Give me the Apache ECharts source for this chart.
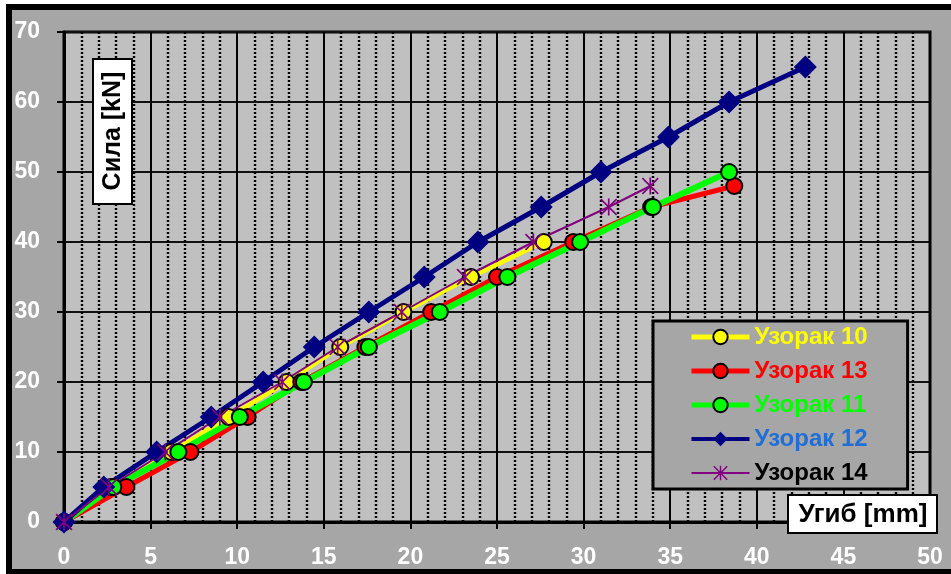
<!DOCTYPE html>
<html>
<head>
<meta charset="utf-8">
<script src="https://cdn.jsdelivr.net/npm/echarts@6/dist/echarts.min.js"></script>
<style>
    html, body { margin: 0; padding: 0; background: #fff; }
    #mychart { width: 951px; height: 574px; }
</style>
</head>
<body>
<div id="mychart"></div>
<script>
// подаци (угиб mm / сила kN)
var y10 = [0, 5, 10, 15, 20, 25, 30, 35, 40];
var x10 = [0, 2.7, 6.2, 9.5, 12.85, 15.95, 19.6, 23.5, 27.7];
var y13 = [0, 5, 10, 15, 20, 25, 30, 35, 40, 45, 48];
var x13 = [0, 3.6, 7.3, 10.6, 13.7, 17.4, 21.2, 25.0, 29.4, 33.9, 38.7];
var y11 = [0, 5, 10, 15, 20, 25, 30, 35, 40, 45, 50];
var x11 = [0, 2.85, 6.6, 10.15, 13.85, 17.6, 21.7, 25.6, 29.8, 34.0, 38.4];
var y12 = [0, 5, 10, 15, 20, 25, 30, 35, 40, 45, 50, 55, 60, 65];
var x12 = [0, 2.3, 5.35, 8.5, 11.5, 14.45, 17.6, 20.8, 23.9, 27.55, 31.0, 34.9, 38.4, 42.8];
var y14 = [0, 5, 10, 15, 20, 25, 30, 35, 40, 45, 48];
var x14 = [0, 2.6, 5.85, 9.0, 12.6, 15.8, 19.5, 23.15, 27.1, 31.45, 33.85];

var names = ['Узорак 10', 'Узорак 13', 'Узорак 11', 'Узорак 12', 'Узорак 14'];

var fontName = 'Liberation Sans, Arial, sans-serif';
// звездица
var starPath = 'path://M9 0L11 0L11 20L9 20Z M0 1.4L1.4 0L20 18.6L18.6 20Z M18.6 0L20 1.4L1.4 20L0 18.6Z';

function pairs(xs, ys) {
    var arr = [];
    for (var i = 0; i < xs.length; i++) {
        arr.push([xs[i], ys[i]]);
    }
    return arr;
}

var myChart = echarts.init(document.getElementById('mychart'));
myChart.setOption({
    animation: false,
    backgroundColor: '#fff',
    grid: {
        left: 64,
        right: 21,
        top: 32,
        bottom: 52,
        show: true,
        backgroundColor: '#c0c0c0',
        borderColor: '#000',
        borderWidth: 3,
        outerBoundsMode: 'none'
    },
    legend: {
        orient: 'vertical',
        left: 653,
        top: 321,
        backgroundColor: '#a6a6a6',
        borderColor: '#000',
        borderWidth: 3,
        padding: [4, 40, 4, 36],
        itemWidth: 58,
        itemHeight: 18,
        itemGap: 10,
        itemTextGap: 6,
        selectedMode: false,
        textStyle: { fontFamily: fontName, fontSize: 24, fontWeight: 'bold' },
        data: [
            { name: names[0], textStyle: { color: '#ffff00' }, lineStyle: { width: 5 } },
            { name: names[1], textStyle: { color: '#ff0000' }, lineStyle: { width: 5 } },
            { name: names[2], textStyle: { color: '#00ff00' }, lineStyle: { width: 5 } },
            { name: names[3], textStyle: { color: '#1f6fd6' }, lineStyle: { width: 4 } },
            { name: names[4], textStyle: { color: '#000' }, lineStyle: { width: 2 } }
        ]
    },
    xAxis: {
        type: 'value',
        min: 0,
        max: 50,
        interval: 5,
        axisLine: { show: true, onZero: false, lineStyle: { color: '#000', width: 3 } },
        axisTick: { show: true, length: 7, lineStyle: { color: '#000', width: 2 } },
        axisLabel: { color: '#fff', fontFamily: fontName, fontSize: 23, fontWeight: 'bold', margin: 24 },
        splitLine: { show: true, lineStyle: { color: '#000', width: 2 } },
        minorTick: { show: false, splitNumber: 5 },
        minorSplitLine: { show: true, lineStyle: { color: '#000', width: 2.4, type: [2, 2] } }
    },
    yAxis: {
        type: 'value',
        min: 0,
        max: 70,
        interval: 10,
        axisLine: { show: true, lineStyle: { color: '#000', width: 3 } },
        axisTick: { show: true, length: 7, lineStyle: { color: '#000', width: 2 } },
        axisLabel: { color: '#fff', fontFamily: fontName, fontSize: 23, fontWeight: 'bold', margin: 24 },
        splitLine: { show: true, lineStyle: { color: '#111', width: 2 } }
    },
    graphic: [
        // спољни оквир
        {
            type: 'rect', z: -1, silent: true,
            shape: { x: 9, y: 7, width: 960, height: 565 },
            style: { fill: '#a6a6a6', stroke: '#000', lineWidth: 6 }
        },
        // Сила [kN]
        {
            type: 'rect', z: 10, silent: true,
            shape: { x: 93, y: 59, width: 39, height: 145 },
            style: { fill: '#fff', stroke: '#000', lineWidth: 2 }
        },
        {
            type: 'text', z: 11, silent: true,
            x: 113, y: 131, rotation: Math.PI / 2,
            style: { text: 'Сила [kN]', fill: '#000', font: 'bold 25px ' + fontName, align: 'center', verticalAlign: 'middle' }
        },
        // Угиб [mm]
        {
            type: 'rect', z: 10, silent: true,
            shape: { x: 788, y: 495, width: 149, height: 38 },
            style: { fill: '#fff', stroke: '#000', lineWidth: 2 }
        },
        {
            type: 'text', z: 11, silent: true,
            x: 863, y: 515,
            style: { text: 'Угиб [mm]', fill: '#000', font: 'bold 26px ' + fontName, align: 'center', verticalAlign: 'middle' }
        }
    ],
    series: [
        {
            name: names[0], type: 'line', data: pairs(x10, y10),
            symbol: 'circle', symbolSize: 16,
            lineStyle: { color: '#ffff00', width: 4.5 },
            itemStyle: { color: '#ffff00', borderColor: '#000', borderWidth: 2 }
        },
        {
            name: names[1], type: 'line', data: pairs(x13, y13),
            symbol: 'circle', symbolSize: 16,
            lineStyle: { color: '#ff0000', width: 5 },
            itemStyle: { color: '#ff0000', borderColor: '#000', borderWidth: 2 }
        },
        {
            name: names[2], type: 'line', data: pairs(x11, y11),
            symbol: 'circle', symbolSize: 16,
            lineStyle: { color: '#00ff00', width: 6 },
            itemStyle: { color: '#00ff00', borderColor: '#000', borderWidth: 2 }
        },
        {
            name: names[3], type: 'line', data: pairs(x12, y12),
            symbol: 'diamond', symbolSize: 23,
            lineStyle: { color: '#000080', width: 5 },
            itemStyle: { color: '#000080' }
        },
        {
            name: names[4], type: 'line', data: pairs(x14, y14),
            symbol: starPath, symbolSize: 17,
            lineStyle: { color: '#800080', width: 2 },
            itemStyle: { color: '#800080' }
        }
    ]
});
</script>
</body>
</html>
